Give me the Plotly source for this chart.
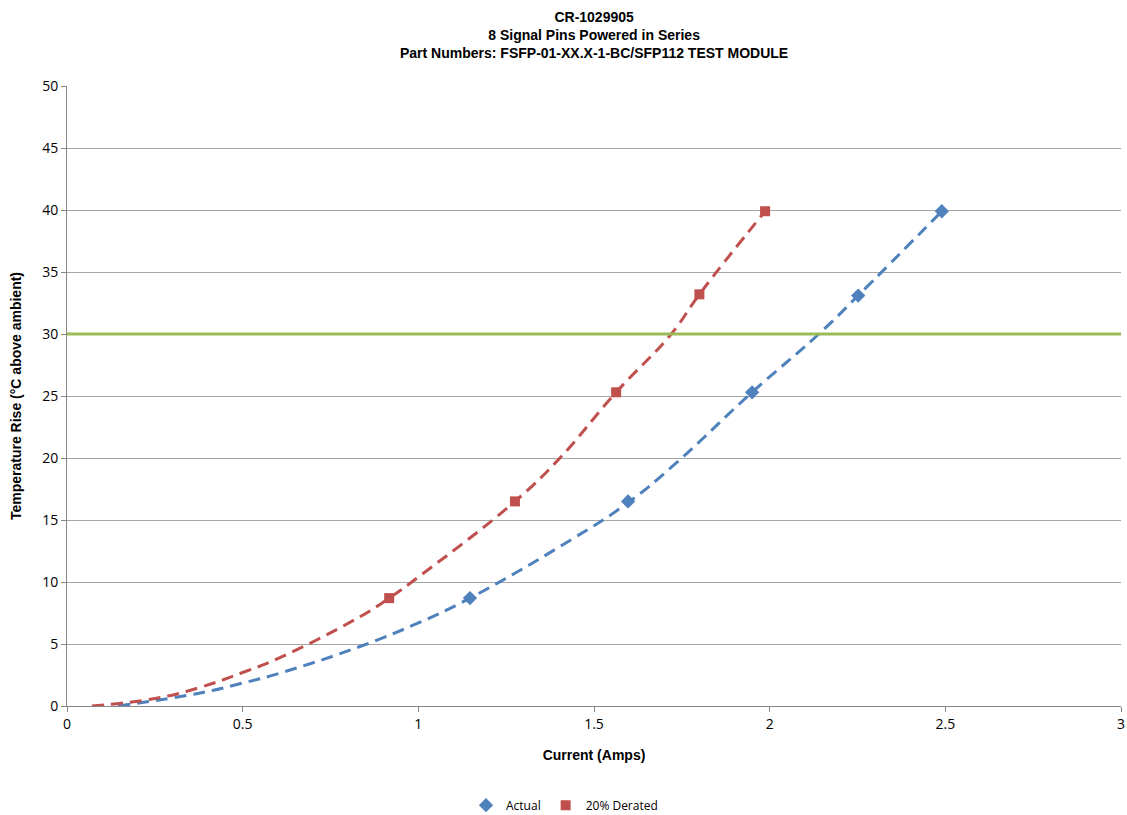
import plotly.graph_objects as go

# Measured data points
actual_x = [1.147, 1.597, 1.95, 2.252, 2.49]
actual_y = [8.7, 16.5, 25.3, 33.1, 39.9]
derated_x = [0.917, 1.275, 1.563, 1.80, 1.987]
derated_y = [8.7, 16.5, 25.3, 33.2, 39.9]

# Trend curves
actual_trend_x = [0.145, 0.379, 0.5, 0.606, 0.834, 1.0, 1.147, 1.44, 1.597, 1.73, 1.95, 2.14, 2.252, 2.49]
actual_trend_y = [0.0, 1.05, 1.85, 2.65, 4.8, 6.7, 8.7, 13.5, 16.4, 19.5, 25.3, 30.0, 33.1, 39.9]
derated_trend_x = [0.071, 0.25, 0.379, 0.5, 0.606, 0.834, 0.917, 1.0, 1.275, 1.403, 1.563, 1.72, 1.80, 1.987]
derated_trend_y = [0.0, 0.6, 1.5, 2.7, 3.9, 7.2, 8.7, 10.4, 16.5, 20.0, 25.3, 30.0, 33.2, 39.9]

x_ticks = [0, 0.5, 1, 1.5, 2, 2.5, 3]
x_tick_labels = ["0", "0.5", "1", "1.5", "2", "2.5", "3"]
y_ticks = [0, 5, 10, 15, 20, 25, 30, 35, 40, 45, 50]

title_lines = ["CR-1029905", "8 Signal Pins Powered in Series",
               "Part Numbers: FSFP-01-XX.X-1-BC/SFP112 TEST MODULE"]

limit_y = 30

BLUE = "#4F81BD"
RED = "#C0504D"
GREEN = "#9BBB59"

fig = go.Figure()

fig.add_trace(go.Scatter(x=actual_trend_x, y=actual_trend_y, mode="lines",
                         line=dict(color=BLUE, width=3, dash="12px,7px", shape="spline", smoothing=1.2),
                         showlegend=False, hoverinfo="skip"))
fig.add_trace(go.Scatter(x=derated_trend_x, y=derated_trend_y, mode="lines",
                         line=dict(color=RED, width=3, dash="12px,7px", shape="spline", smoothing=1.2),
                         showlegend=False, hoverinfo="skip"))
fig.add_trace(go.Scatter(x=actual_x, y=actual_y, mode="markers", name="Actual",
                         marker=dict(symbol="diamond", size=11, color=BLUE)))
fig.add_trace(go.Scatter(x=derated_x, y=derated_y, mode="markers", name="20% Derated",
                         marker=dict(symbol="square", size=10, color=RED)))

fig.add_shape(type="line", xref="paper", yref="y", x0=0, x1=1, y0=limit_y, y1=limit_y,
              line=dict(color=GREEN, width=3), layer="above")

fig.add_annotation(
    text="<b>" + "<br>".join(title_lines) + "</b>",
    xref="paper", yref="paper", x=0.5, xanchor="center",
    y=1 + 79 / 620, yanchor="top", showarrow=False, align="center",
    font=dict(family="Liberation Sans, Arial, sans-serif", size=14, color="black"))

fig.update_layout(
    width=1127, height=815,
    margin=dict(l=67, r=6, t=86, b=109, autoexpand=False),
    paper_bgcolor="white", plot_bgcolor="white",
    font=dict(family="Open Sans, Calibri, sans-serif", size=14, color="black"),
    legend=dict(orientation="h", x=0.472, xanchor="center", y=-0.16, yanchor="middle",
                itemwidth=30, font=dict(size=12, family="Open Sans, sans-serif")),
    xaxis=dict(range=[0, 3], tickvals=x_ticks, ticktext=x_tick_labels, showgrid=False,
               showline=True, linecolor="#868686", automargin=False, ticklabeloverflow="allow",
               ticks="outside", ticklen=5, tickcolor="#868686", zeroline=False,
               title=dict(text="<b>Current (Amps)</b>", standoff=18,
                          font=dict(family="Liberation Sans, Arial, sans-serif", size=14))),
    yaxis=dict(range=[0, 50], tickvals=y_ticks, showgrid=True, gridcolor="#A6A6A6", gridwidth=1,
               showline=True, linecolor="#868686", ticks="outside", ticklen=5, tickcolor="#868686",
               zeroline=False, automargin=False,
               title=dict(text="<b>Temperature Rise (°C above ambient)</b>", standoff=17,
                          font=dict(family="Liberation Sans, Arial, sans-serif", size=14))),
)

fig.write_html("out.html", config={"displayModeBar": False},
               post_script="document.body.style.margin='0';document.body.style.overflow='hidden';")
